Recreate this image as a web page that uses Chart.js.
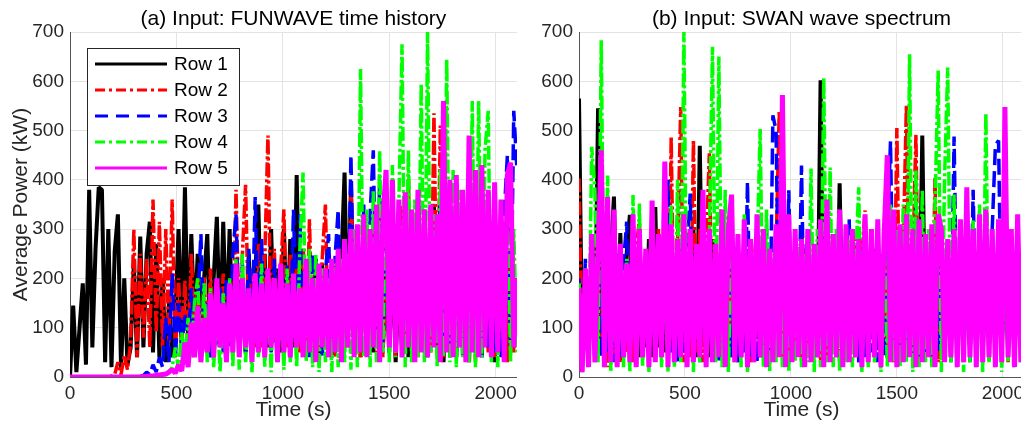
<!DOCTYPE html>
<html>
<head>
<meta charset="utf-8">
<script src="https://cdn.jsdelivr.net/npm/chart.js@4.4.1/dist/chart.umd.min.js"></script>
<style>
  html, body { margin: 0; padding: 0; background: #fff; overflow: hidden; }
  body { width: 1021px; height: 432px; position: relative; }
  #chartA { position: absolute; left: 0; top: 0; }
  #chartB { position: absolute; left: 510px; top: 0; }
</style>
</head>
<body>
<canvas id="chartA" width="522" height="432"></canvas>
<canvas id="chartB" width="520" height="432"></canvas>
<script>
// time axis (s), one sample every 15 s
const times = [0,15,30,45,60,75,90,105,120,135,150,165,180,195,210,225,240,255,270,285,
  300,315,330,345,360,375,390,405,420,435,450,465,480,495,510,525,540,555,570,585,
  600,615,630,645,660,675,690,705,720,735,750,765,780,795,810,825,840,855,870,885,
  900,915,930,945,960,975,990,1005,1020,1035,1050,1065,1080,1095,1110,1125,1140,1155,1170,1185,
  1200,1215,1230,1245,1260,1275,1290,1305,1320,1335,1350,1365,1380,1395,1410,1425,1440,1455,1470,1485,
  1500,1515,1530,1545,1560,1575,1590,1605,1620,1635,1650,1665,1680,1695,1710,1725,1740,1755,1770,1785,
  1800,1815,1830,1845,1860,1875,1890,1905,1920,1935,1950,1965,1980,1995,2010,2025,2040,2055,2070,2085,2100];
const xTickValues = [0, 500, 1000, 1500, 2000];
const yTickValues = [0, 100, 200, 300, 400, 500, 600, 700];

const rowLabels = ["Row 1", "Row 2", "Row 3", "Row 4", "Row 5"];
const rowColors = ["#000000", "#ff0000", "#0000ff", "#00ff00", "#ff00ff"];
const rowDashes = [[], [14, 3, 3, 3], [16, 6], [14, 3, 3, 3], []];
const legendDashes = [[], [10, 4, 3, 4], [13, 8], [10, 4, 3, 4], []];
const rowWidths = [4, 3.5, 3.5, 3.5, 5];

// (a) FUNWAVE time history, average power (kW)
const fwRow1 = [0,145,10,100,190,25,380,60,260,385,
  380,30,300,20,255,330,15,200,25,60,
  230,40,285,60,250,315,50,270,40,200,
  30,150,40,120,300,60,385,80,290,100,
  250,60,200,290,50,200,325,80,315,90,
  300,60,215,70,180,50,250,60,200,350,
  80,250,60,300,70,220,50,300,80,280,
  60,410,90,260,50,200,60,240,40,230,
  70,180,40,200,60,230,415,80,390,100,
  220,40,260,60,200,50,250,330,60,220,
  50,240,30,200,60,260,40,220,50,230,
  70,250,40,210,350,60,240,30,200,50,
  230,40,260,60,210,30,250,50,220,40,
  240,60,200,30,260,50,220,40,250,60,
  200];
const fwRow2 = [0,0,0,0,0,0,0,0,0,0,
  0,0,1,2,5,30,5,45,15,70,
  300,40,250,80,240,60,360,90,315,60,
  300,70,360,40,200,60,196,40,250,70,
  200,50,203,60,220,40,180,70,210,50,
  150,60,380,90,250,390,80,220,60,270,
  60,240,490,70,260,50,220,340,60,250,
  80,230,50,260,40,320,70,200,50,240,
  350,60,220,40,280,70,200,60,395,80,
  250,40,280,60,220,300,50,250,40,200,
  60,260,40,300,350,50,410,60,240,40,
  230,60,200,50,535,80,510,40,220,60,
  250,40,330,60,200,50,260,30,240,60,
  230,50,280,40,300,60,220,30,250,50,
  100];
const fwRow3 = [0,0,0,0,0,0,0,0,0,0,
  0,0,0,0,0,0,0,0,0,0,
  0,0,1,3,10,5,25,10,40,20,
  120,30,210,40,150,60,130,50,180,70,
  150,290,60,150,40,120,60,180,50,200,
  60,250,330,70,230,50,260,80,365,90,
  280,60,200,50,240,70,180,50,230,60,
  340,80,330,60,200,40,250,60,220,40,
  210,290,60,240,340,50,260,70,450,90,
  300,60,350,50,330,460,80,400,60,300,
  50,330,60,300,40,350,70,280,40,300,
  60,250,40,280,60,240,360,50,260,40,
  280,60,300,40,250,70,330,50,290,40,
  260,60,300,50,280,40,330,450,60,540,
  420];
const fwRow4 = [0,0,0,0,0,0,0,0,0,0,
  0,0,0,0,0,0,0,0,0,0,
  0,0,0,0,0,1,1,2,3,5,
  5,10,20,60,15,90,30,120,40,150,
  200,40,190,30,180,20,150,10,170,30,
  200,20,240,15,250,30,160,10,210,40,
  230,20,180,10,200,30,170,15,220,30,
  180,20,260,415,30,260,20,250,10,220,
  30,200,10,230,20,240,30,250,15,300,
  20,625,40,340,20,380,30,460,50,400,
  30,430,40,350,675,20,460,30,360,40,
  595,30,700,50,330,20,420,40,645,30,
  420,20,380,40,300,30,560,20,560,40,
  460,540,30,330,20,280,40,350,30,300,
  50];
const fwRow5 = [0,0,0,0,0,0,0,0,0,0,
  0,0,0,0,0,0,0,0,0,0,
  0,0,0,1,1,2,2,3,4,5,
  6,10,15,8,25,12,70,20,110,40,
  144,30,120,50,170,40,200,60,150,30,
  190,50,230,40,200,60,180,30,210,50,
  190,40,220,60,200,30,230,50,190,40,
  210,60,180,40,240,50,200,30,230,60,
  220,40,240,50,260,30,280,60,300,40,
  310,50,330,40,300,60,350,30,320,420,
  60,400,50,360,40,375,60,340,30,380,
  50,340,40,350,60,330,30,560,50,400,
  40,410,60,380,30,490,50,420,40,430,
  60,380,40,395,50,360,30,410,435,60,
  200];

// (b) SWAN wave spectrum, average power (kW)
const swRow1 = [565,40,200,30,250,60,545,50,280,40,
  250,366,40,292,60,250,329,50,200,40,
  230,60,280,40,345,60,250,50,300,60,
  240,40,280,60,200,50,300,40,469,60,
  250,40,280,60,200,50,260,40,230,60,
  240,40,200,60,260,50,230,40,280,60,
  250,40,300,60,220,50,240,40,200,60,
  300,50,260,40,220,60,602,50,280,40,
  250,60,393,40,280,60,300,40,220,50,
  230,40,260,60,200,50,240,40,270,60,
  220,40,300,60,250,40,230,60,490,50,
  260,40,220,60,300,50,240,40,260,60,
  230,40,250,60,200,50,280,40,240,60,
  260,40,300,60,230,50,200,40,250,60,
  200];
const swRow2 = [403,20,220,40,200,30,180,50,230,20,
  200,40,240,30,180,50,220,30,260,320,
  40,250,30,220,50,300,40,320,30,487,
  40,260,548,30,250,40,481,50,300,30,
  260,454,40,230,50,260,30,220,40,250,
  30,200,50,240,30,220,310,40,250,30,
  230,50,260,540,40,250,30,220,50,240,
  30,260,40,230,50,210,30,250,40,220,
  50,240,30,260,40,230,50,280,30,250,
  338,40,260,30,230,50,280,40,250,30,
  505,50,260,552,40,230,492,30,260,50,
  230,40,405,30,250,50,220,40,260,30,
  240,50,230,30,300,40,260,50,220,30,
  250,40,230,50,490,30,260,40,220,50,
  200];
const swRow3 = [200,30,240,50,220,30,260,40,230,50,
  200,30,250,40,230,315,50,240,30,260,
  40,220,50,280,30,250,40,260,400,50,
  250,30,230,50,260,372,40,240,30,260,
  50,230,40,250,30,270,50,230,40,260,
  30,250,50,396,40,240,30,260,50,300,
  40,531,500,50,270,30,379,40,250,50,
  429,30,250,50,230,40,260,30,240,50,
  230,40,260,30,250,320,50,240,30,260,
  40,230,50,260,30,250,40,280,478,50,
  260,30,240,50,230,40,350,30,260,50,
  240,30,250,50,230,40,260,30,488,50,
  280,40,250,30,380,50,240,30,260,50,
  300,470,480,40,260,50,230,30,330,40,
  250];
const swRow4 = [190,10,220,20,467,380,30,683,20,409,
  10,200,30,180,20,240,10,369,30,352,
  20,200,10,230,30,210,20,250,10,350,
  20,400,30,700,20,300,10,260,30,350,
  20,280,670,30,650,20,380,10,300,30,
  260,20,330,10,280,30,250,503,20,340,
  10,250,30,280,20,300,10,230,30,270,
  20,250,30,423,10,300,20,608,30,425,
  20,300,10,250,30,280,20,230,385,10,
  300,20,260,30,280,10,300,20,350,30,
  300,20,350,30,655,10,420,20,380,30,
  300,20,350,622,10,400,628,30,370,20,
  300,10,280,30,320,20,350,10,535,30,
  300,20,260,10,280,30,300,20,250,30,
  100];
const swRow5 = [180,10,220,20,290,30,260,460,20,365,
  30,340,20,270,40,230,30,330,20,300,
  40,260,20,358,30,290,40,437,20,310,
  30,280,40,330,20,300,30,270,40,380,
  20,300,30,270,40,340,20,300,370,30,
  290,40,320,20,280,30,330,40,300,20,
  260,30,310,40,572,20,330,30,300,40,
  280,20,300,30,270,40,320,20,360,30,
  290,40,340,20,310,30,300,40,280,20,
  330,30,300,40,320,20,290,450,30,340,
  20,310,30,330,40,300,20,320,30,290,
  40,310,20,330,300,30,280,40,300,20,
  320,30,385,40,300,20,330,30,340,40,
  300,20,320,30,548,40,300,20,330,30,
  250];

Chart.defaults.font.family = '"Liberation Sans", Arial, sans-serif';
Chart.defaults.color = '#262626';

function toPoints(vals) {
  return times.map((t, i) => ({ x: t, y: vals[i] }));
}

// panel title centred over the plot area
const panelTitle = {
  id: 'panelTitle',
  afterDraw(chart, args, opts) {
    const ctx = chart.ctx, a = chart.chartArea;
    ctx.save();
    ctx.font = '21px "Liberation Sans", Arial, sans-serif';
    ctx.fillStyle = '#000';
    ctx.textAlign = 'center';
    ctx.textBaseline = 'middle';
    ctx.fillText(opts.text, (a.left + a.right) / 2, 19);
    ctx.restore();
  }
};

// boxed legend inside the plot, top left
const boxLegend = {
  id: 'boxLegend',
  afterDraw(chart, args, opts) {
    if (!opts.show) return;
    const ctx = chart.ctx, a = chart.chartArea;
    const bx = a.left + 17, by = a.top + 16, bw = 152, bh = 137;
    ctx.save();
    ctx.fillStyle = '#fff';
    ctx.fillRect(bx, by, bw, bh);
    ctx.strokeStyle = '#262626';
    ctx.lineWidth = 1;
    ctx.strokeRect(bx + 0.5, by + 0.5, bw, bh);
    ctx.font = '19px "Liberation Sans", Arial, sans-serif';
    ctx.textAlign = 'left';
    ctx.textBaseline = 'middle';
    rowLabels.forEach((lab, i) => {
      const y = by + 16 + i * 26;
      ctx.beginPath();
      ctx.setLineDash(legendDashes[i]);
      ctx.strokeStyle = rowColors[i];
      ctx.lineWidth = 3;
      ctx.moveTo(bx + 8, y);
      ctx.lineTo(bx + 80, y);
      ctx.stroke();
      ctx.setLineDash([]);
      ctx.fillStyle = '#000';
      ctx.fillText(lab, bx + 87, y + 1);
    });
    ctx.restore();
  }
};

function makePanel(id, rows, title, yTitle, legend, yWidth, padRight) {
  const datasets = rows.map((vals, i) => ({
    label: rowLabels[i],
    data: toPoints(vals),
    borderColor: rowColors[i],
    borderWidth: rowWidths[i],
    borderDash: rowDashes[i],
    borderJoinStyle: 'bevel',
    pointRadius: 0,
    fill: false,
    tension: 0,
    order: 5 - i
  }));

  new Chart(document.getElementById(id), {
    type: 'line',
    data: { datasets: datasets },
    plugins: [panelTitle, boxLegend],
    options: {
      responsive: false,
      animation: false,
      layout: { padding: { left: 0, right: padRight, top: 32, bottom: 0 } },
      plugins: {
        legend: { display: false },
        tooltip: { enabled: false },
        panelTitle: { text: title },
        boxLegend: { show: legend }
      },
      scales: {
        x: {
          type: 'linear',
          min: 0,
          max: 2100,
          afterBuildTicks(s) { s.ticks = xTickValues.map(v => ({ value: v })); },
          ticks: { font: { size: 19 }, padding: 5, maxRotation: 0, autoSkip: false,
                   callback: v => String(v) },
          grid: { color: '#e3e3e3', drawTicks: false },
          border: { color: '#555' },
          title: { display: true, text: 'Time (s)', font: { size: 21 }, padding: { top: 0, bottom: 9 } },
          afterFit(s) { s.height = 55; }
        },
        y: {
          min: 0,
          max: 700,
          afterBuildTicks(s) { s.ticks = yTickValues.map(v => ({ value: v })); },
          ticks: { font: { size: 19 }, padding: 6, callback: v => String(v) },
          grid: { color: '#e3e3e3', drawTicks: false },
          border: { color: '#555' },
          title: { display: yTitle, text: 'Average Power (kW)', font: { size: 21 }, padding: { top: 9, bottom: 0 } },
          afterFit(s) { s.width = yWidth; }
        }
      }
    }
  });
}

makePanel('chartA', [fwRow1, fwRow2, fwRow3, fwRow4, fwRow5],
  '(a) Input: FUNWAVE time history', true, true, 70, 4);
makePanel('chartB', [swRow1, swRow2, swRow3, swRow4, swRow5],
  '(b) Input: SWAN wave spectrum', false, false, 69, 6);
</script>
</body>
</html>
